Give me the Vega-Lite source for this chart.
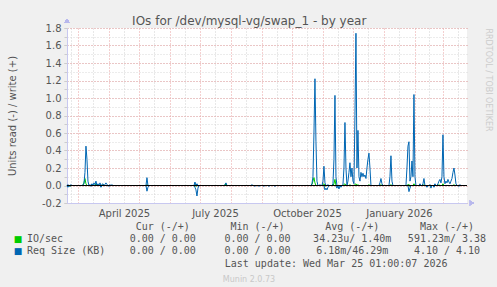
{
  "$schema": "https://vega.github.io/schema/vega-lite/v6.json",
  "background": "#f0f0f0",
  "padding": {"left": 7, "top": 14, "right": 8, "bottom": 5},
  "title": {"text": "IOs for /dev/mysql-vg/swap_1 - by year", "font": "DejaVu Sans", "fontSize": 12, "fontWeight": "normal", "color": "#555555", "anchor": "middle", "offset": -9},
  "config": {"view": {"stroke": null}, "font": "DejaVu Sans", "concat": {"spacing": 3}},
  "datasets": {
    "io": [
      {"d": "2025-02-18", "gw": 0, "gr": 0, "bw": 0, "br": 0},
      {"d": "2025-02-19", "gw": 0, "gr": 0, "bw": 0.01, "br": -0.02},
      {"d": "2025-02-20", "gw": 0, "gr": 0, "bw": 0, "br": 0},
      {"d": "2025-02-21", "gw": 0, "gr": -0.01, "bw": 0, "br": -0.01},
      {"d": "2025-02-22", "gw": 0, "gr": 0, "bw": 0.01, "br": 0},
      {"d": "2025-02-23", "gw": 0, "gr": 0, "bw": 0, "br": 0},
      {"d": "2025-02-24", "gw": 0, "gr": 0, "bw": 0, "br": 0},
      {"d": "2025-02-25", "gw": null, "gr": null, "bw": null, "br": null},
      {"d": "2025-03-04", "gw": 0, "gr": 0, "bw": 0, "br": 0},
      {"d": "2025-03-05", "gw": 0, "gr": 0, "bw": 0, "br": 0},
      {"d": "2025-03-06", "gw": 0, "gr": 0, "bw": 0.01, "br": 0},
      {"d": "2025-03-07", "gw": 0.03, "gr": 0, "bw": 0.02, "br": 0},
      {"d": "2025-03-08", "gw": 0.08, "gr": 0, "bw": 0.15, "br": 0},
      {"d": "2025-03-09", "gw": 0.02, "gr": 0, "bw": 0.45, "br": 0},
      {"d": "2025-03-10", "gw": 0, "gr": 0, "bw": 0.3, "br": 0},
      {"d": "2025-03-11", "gw": 0, "gr": 0, "bw": 0.05, "br": 0},
      {"d": "2025-03-12", "gw": 0, "gr": 0, "bw": 0, "br": 0},
      {"d": "2025-03-13", "gw": 0, "gr": 0, "bw": 0.01, "br": 0},
      {"d": "2025-03-14", "gw": 0, "gr": 0, "bw": 0, "br": -0.01},
      {"d": "2025-03-15", "gw": 0.01, "gr": 0, "bw": 0.02, "br": 0},
      {"d": "2025-03-16", "gw": 0, "gr": 0, "bw": 0, "br": 0},
      {"d": "2025-03-17", "gw": 0, "gr": 0, "bw": 0.03, "br": 0},
      {"d": "2025-03-18", "gw": 0, "gr": 0, "bw": 0.01, "br": 0},
      {"d": "2025-03-19", "gw": 0.02, "gr": 0, "bw": 0.05, "br": 0},
      {"d": "2025-03-20", "gw": 0, "gr": 0, "bw": 0, "br": 0},
      {"d": "2025-03-21", "gw": 0, "gr": 0, "bw": 0.02, "br": 0},
      {"d": "2025-03-22", "gw": 0, "gr": 0, "bw": 0, "br": 0},
      {"d": "2025-03-23", "gw": 0, "gr": 0, "bw": 0.03, "br": 0},
      {"d": "2025-03-24", "gw": 0, "gr": -0.01, "bw": 0, "br": -0.02},
      {"d": "2025-03-25", "gw": 0, "gr": 0, "bw": 0.01, "br": 0},
      {"d": "2025-03-26", "gw": 0.01, "gr": 0, "bw": 0.02, "br": 0},
      {"d": "2025-03-27", "gw": 0, "gr": 0, "bw": 0, "br": 0},
      {"d": "2025-03-28", "gw": 0, "gr": 0, "bw": 0.01, "br": 0},
      {"d": "2025-03-29", "gw": 0, "gr": 0, "bw": 0.03, "br": 0},
      {"d": "2025-03-30", "gw": 0, "gr": 0, "bw": 0.01, "br": 0},
      {"d": "2025-03-31", "gw": 0, "gr": 0, "bw": 0, "br": 0},
      {"d": "2025-04-01", "gw": 0, "gr": 0, "bw": 0, "br": -0.01},
      {"d": "2025-04-02", "gw": 0, "gr": 0, "bw": 0.01, "br": 0},
      {"d": "2025-04-03", "gw": 0, "gr": 0, "bw": 0, "br": 0},
      {"d": "2025-04-04", "gw": 0, "gr": 0, "bw": 0.01, "br": 0},
      {"d": "2025-04-05", "gw": 0, "gr": 0, "bw": 0, "br": 0},
      {"d": "2025-04-06", "gw": null, "gr": null, "bw": null, "br": null},
      {"d": "2025-05-08", "gw": 0, "gr": 0, "bw": 0, "br": 0},
      {"d": "2025-05-09", "gw": 0.01, "gr": 0, "bw": 0.09, "br": -0.065},
      {"d": "2025-05-10", "gw": 0, "gr": 0, "bw": 0, "br": -0.02},
      {"d": "2025-05-11", "gw": 0, "gr": 0, "bw": 0, "br": 0},
      {"d": "2025-05-12", "gw": null, "gr": null, "bw": null, "br": null},
      {"d": "2025-06-02", "gw": 0, "gr": 0, "bw": 0, "br": 0},
      {"d": "2025-06-03", "gw": 0, "gr": 0, "bw": 0, "br": 0},
      {"d": "2025-06-04", "gw": null, "gr": null, "bw": null, "br": null},
      {"d": "2025-06-25", "gw": 0, "gr": 0, "bw": 0, "br": 0},
      {"d": "2025-06-26", "gw": 0.01, "gr": 0, "bw": 0.04, "br": -0.02},
      {"d": "2025-06-27", "gw": 0, "gr": -0.01, "bw": 0, "br": -0.05},
      {"d": "2025-06-28", "gw": 0, "gr": 0, "bw": 0.02, "br": -0.12},
      {"d": "2025-06-29", "gw": 0, "gr": 0, "bw": 0, "br": -0.03},
      {"d": "2025-06-30", "gw": 0, "gr": 0, "bw": 0, "br": 0},
      {"d": "2025-07-01", "gw": null, "gr": null, "bw": null, "br": null},
      {"d": "2025-07-04", "gw": 0, "gr": 0, "bw": 0, "br": 0},
      {"d": "2025-07-05", "gw": 0, "gr": 0, "bw": 0, "br": 0},
      {"d": "2025-07-06", "gw": null, "gr": null, "bw": null, "br": null},
      {"d": "2025-07-25", "gw": 0, "gr": 0, "bw": 0, "br": 0},
      {"d": "2025-07-26", "gw": 0, "gr": 0, "bw": 0.01, "br": 0},
      {"d": "2025-07-27", "gw": 0.02, "gr": 0, "bw": 0.03, "br": 0},
      {"d": "2025-07-28", "gw": 0, "gr": 0, "bw": 0, "br": 0},
      {"d": "2025-07-29", "gw": 0, "gr": 0, "bw": 0, "br": 0},
      {"d": "2025-07-30", "gw": null, "gr": null, "bw": null, "br": null},
      {"d": "2025-08-18", "gw": 0, "gr": 0, "bw": 0, "br": 0},
      {"d": "2025-08-19", "gw": 0, "gr": 0, "bw": 0, "br": 0},
      {"d": "2025-08-20", "gw": 0, "gr": 0, "bw": 0, "br": 0},
      {"d": "2025-08-21", "gw": 0, "gr": 0, "bw": 0, "br": 0},
      {"d": "2025-08-22", "gw": 0, "gr": 0, "bw": 0.01, "br": 0},
      {"d": "2025-08-23", "gw": 0, "gr": 0, "bw": 0, "br": 0},
      {"d": "2025-08-24", "gw": 0, "gr": 0, "bw": 0, "br": 0},
      {"d": "2025-08-25", "gw": 0, "gr": 0, "bw": 0, "br": -0.01},
      {"d": "2025-08-26", "gw": 0, "gr": 0, "bw": 0, "br": 0},
      {"d": "2025-08-27", "gw": 0, "gr": 0, "bw": 0, "br": 0},
      {"d": "2025-08-28", "gw": 0, "gr": 0, "bw": 0, "br": 0},
      {"d": "2025-08-29", "gw": 0, "gr": 0, "bw": 0, "br": -0.01},
      {"d": "2025-08-30", "gw": 0, "gr": 0, "bw": 0, "br": 0},
      {"d": "2025-08-31", "gw": 0, "gr": 0, "bw": 0, "br": 0},
      {"d": "2025-09-01", "gw": null, "gr": null, "bw": null, "br": null},
      {"d": "2025-09-02", "gw": 0, "gr": 0, "bw": 0, "br": 0},
      {"d": "2025-09-03", "gw": 0, "gr": 0, "bw": 0, "br": -0.01},
      {"d": "2025-09-04", "gw": 0, "gr": 0, "bw": 0, "br": 0},
      {"d": "2025-09-05", "gw": 0, "gr": 0, "bw": 0, "br": 0},
      {"d": "2025-09-06", "gw": null, "gr": null, "bw": null, "br": null},
      {"d": "2025-09-07", "gw": 0, "gr": 0, "bw": 0, "br": 0},
      {"d": "2025-09-08", "gw": 0, "gr": 0, "bw": 0, "br": -0.01},
      {"d": "2025-09-09", "gw": 0, "gr": 0, "bw": 0, "br": 0},
      {"d": "2025-09-10", "gw": 0, "gr": 0, "bw": 0, "br": 0},
      {"d": "2025-09-11", "gw": null, "gr": null, "bw": null, "br": null},
      {"d": "2025-09-12", "gw": 0, "gr": 0, "bw": 0, "br": 0},
      {"d": "2025-09-13", "gw": 0, "gr": 0, "bw": 0, "br": 0},
      {"d": "2025-09-14", "gw": 0, "gr": 0, "bw": 0, "br": -0.01},
      {"d": "2025-09-15", "gw": 0, "gr": 0, "bw": 0, "br": 0},
      {"d": "2025-09-16", "gw": 0, "gr": 0, "bw": 0, "br": 0},
      {"d": "2025-09-17", "gw": 0, "gr": 0, "bw": 0, "br": 0},
      {"d": "2025-09-18", "gw": null, "gr": null, "bw": null, "br": null},
      {"d": "2025-09-22", "gw": 0, "gr": 0, "bw": 0, "br": 0},
      {"d": "2025-09-23", "gw": 0, "gr": 0, "bw": 0, "br": 0},
      {"d": "2025-09-24", "gw": 0, "gr": 0, "bw": 0, "br": 0},
      {"d": "2025-09-25", "gw": 0, "gr": 0, "bw": 0, "br": 0},
      {"d": "2025-09-26", "gw": null, "gr": null, "bw": null, "br": null},
      {"d": "2025-09-27", "gw": 0, "gr": 0, "bw": 0, "br": 0},
      {"d": "2025-09-28", "gw": 0, "gr": 0, "bw": 0, "br": 0},
      {"d": "2025-09-29", "gw": 0, "gr": 0, "bw": 0, "br": 0},
      {"d": "2025-09-30", "gw": 0, "gr": 0, "bw": 0, "br": 0},
      {"d": "2025-10-01", "gw": null, "gr": null, "bw": null, "br": null},
      {"d": "2025-10-02", "gw": 0, "gr": 0, "bw": 0, "br": 0},
      {"d": "2025-10-03", "gw": 0, "gr": 0, "bw": 0, "br": 0},
      {"d": "2025-10-04", "gw": 0, "gr": 0, "bw": 0, "br": 0},
      {"d": "2025-10-05", "gw": 0, "gr": 0, "bw": 0, "br": 0},
      {"d": "2025-10-06", "gw": 0, "gr": 0, "bw": 0, "br": 0},
      {"d": "2025-10-07", "gw": 0, "gr": 0, "bw": 0, "br": 0},
      {"d": "2025-10-08", "gw": null, "gr": null, "bw": null, "br": null},
      {"d": "2025-10-19", "gw": 0, "gr": 0, "bw": 0, "br": 0},
      {"d": "2025-10-20", "gw": 0, "gr": 0, "bw": 0, "br": 0},
      {"d": "2025-10-21", "gw": 0.01, "gr": 0, "bw": 0.02, "br": 0},
      {"d": "2025-10-22", "gw": 0.05, "gr": 0, "bw": 0.1, "br": 0},
      {"d": "2025-10-23", "gw": 0.09, "gr": 0, "bw": 0.6, "br": 0},
      {"d": "2025-10-24", "gw": 0.03, "gr": 0, "bw": 1.22, "br": 0},
      {"d": "2025-10-25", "gw": 0, "gr": 0, "bw": 0.5, "br": 0},
      {"d": "2025-10-26", "gw": 0, "gr": 0, "bw": 0.05, "br": 0},
      {"d": "2025-10-27", "gw": 0, "gr": 0, "bw": 0, "br": 0},
      {"d": "2025-10-28", "gw": 0, "gr": 0, "bw": 0, "br": 0},
      {"d": "2025-10-29", "gw": 0, "gr": 0, "bw": 0.01, "br": 0},
      {"d": "2025-10-30", "gw": 0, "gr": 0, "bw": 0, "br": 0},
      {"d": "2025-10-31", "gw": 0, "gr": 0, "bw": 0, "br": 0},
      {"d": "2025-11-01", "gw": 0.01, "gr": 0, "bw": 0.05, "br": 0},
      {"d": "2025-11-02", "gw": 0.02, "gr": 0, "bw": 0.22, "br": 0},
      {"d": "2025-11-03", "gw": 0, "gr": -0.01, "bw": 0.03, "br": -0.05},
      {"d": "2025-11-04", "gw": 0, "gr": 0, "bw": 0, "br": -0.03},
      {"d": "2025-11-05", "gw": 0, "gr": 0, "bw": 0, "br": -0.05},
      {"d": "2025-11-06", "gw": 0, "gr": 0, "bw": 0.01, "br": -0.02},
      {"d": "2025-11-07", "gw": 0, "gr": 0, "bw": 0, "br": 0},
      {"d": "2025-11-08", "gw": 0, "gr": 0, "bw": 0, "br": 0},
      {"d": "2025-11-09", "gw": 0, "gr": 0, "bw": 0, "br": 0},
      {"d": "2025-11-10", "gw": 0, "gr": 0, "bw": 0, "br": 0},
      {"d": "2025-11-11", "gw": 0, "gr": 0, "bw": 0.02, "br": 0},
      {"d": "2025-11-12", "gw": 0.02, "gr": 0, "bw": 0.3, "br": 0},
      {"d": "2025-11-13", "gw": 0.07, "gr": 0, "bw": 1.03, "br": 0},
      {"d": "2025-11-14", "gw": 0, "gr": 0, "bw": 0.1, "br": 0},
      {"d": "2025-11-15", "gw": 0, "gr": 0, "bw": 0, "br": -0.03},
      {"d": "2025-11-16", "gw": 0, "gr": 0, "bw": 0, "br": 0},
      {"d": "2025-11-17", "gw": 0, "gr": 0, "bw": 0, "br": -0.04},
      {"d": "2025-11-18", "gw": 0, "gr": 0, "bw": 0, "br": 0},
      {"d": "2025-11-19", "gw": 0, "gr": 0, "bw": 0, "br": -0.02},
      {"d": "2025-11-20", "gw": 0, "gr": 0, "bw": 0, "br": 0},
      {"d": "2025-11-21", "gw": 0, "gr": 0, "bw": 0.01, "br": 0},
      {"d": "2025-11-22", "gw": 0.01, "gr": 0, "bw": 0.2, "br": 0},
      {"d": "2025-11-23", "gw": 0.02, "gr": 0, "bw": 0.72, "br": 0},
      {"d": "2025-11-24", "gw": 0, "gr": 0, "bw": 0.2, "br": 0},
      {"d": "2025-11-25", "gw": 0, "gr": 0, "bw": 0, "br": 0},
      {"d": "2025-11-26", "gw": 0, "gr": 0, "bw": 0.05, "br": 0},
      {"d": "2025-11-27", "gw": 0, "gr": 0, "bw": 0.15, "br": 0},
      {"d": "2025-11-28", "gw": 0.01, "gr": 0, "bw": 0.26, "br": 0},
      {"d": "2025-11-29", "gw": 0, "gr": 0, "bw": 0.1, "br": 0},
      {"d": "2025-11-30", "gw": 0, "gr": 0, "bw": 0.2, "br": 0},
      {"d": "2025-12-01", "gw": 0, "gr": 0, "bw": 0.05, "br": 0},
      {"d": "2025-12-02", "gw": 0, "gr": 0, "bw": 0.02, "br": 0},
      {"d": "2025-12-03", "gw": 0.01, "gr": 0, "bw": 0.8, "br": 0},
      {"d": "2025-12-04", "gw": 0.02, "gr": 0, "bw": 1.74, "br": 0},
      {"d": "2025-12-05", "gw": 0, "gr": 0, "bw": 0.2, "br": 0},
      {"d": "2025-12-06", "gw": 0.01, "gr": 0, "bw": 0.63, "br": 0},
      {"d": "2025-12-07", "gw": 0, "gr": 0, "bw": 0.1, "br": 0},
      {"d": "2025-12-08", "gw": 0, "gr": 0, "bw": 0.05, "br": 0},
      {"d": "2025-12-09", "gw": 0, "gr": 0, "bw": 0.15, "br": 0},
      {"d": "2025-12-10", "gw": 0, "gr": 0, "bw": 0.1, "br": 0},
      {"d": "2025-12-11", "gw": 0, "gr": 0, "bw": 0.14, "br": 0},
      {"d": "2025-12-12", "gw": 0, "gr": 0, "bw": 0.1, "br": 0},
      {"d": "2025-12-13", "gw": 0, "gr": 0, "bw": 0.12, "br": 0},
      {"d": "2025-12-14", "gw": 0, "gr": 0, "bw": 0.08, "br": 0},
      {"d": "2025-12-15", "gw": 0, "gr": 0, "bw": 0.2, "br": 0},
      {"d": "2025-12-16", "gw": 0, "gr": 0, "bw": 0.3, "br": 0},
      {"d": "2025-12-17", "gw": 0.01, "gr": 0, "bw": 0.37, "br": 0},
      {"d": "2025-12-18", "gw": 0, "gr": 0, "bw": 0.2, "br": 0},
      {"d": "2025-12-19", "gw": 0, "gr": 0, "bw": 0, "br": 0},
      {"d": "2025-12-20", "gw": 0, "gr": 0, "bw": 0, "br": 0},
      {"d": "2025-12-21", "gw": 0, "gr": 0, "bw": 0, "br": 0},
      {"d": "2025-12-22", "gw": null, "gr": null, "bw": null, "br": null},
      {"d": "2025-12-27", "gw": 0, "gr": 0, "bw": 0, "br": 0},
      {"d": "2025-12-28", "gw": 0, "gr": 0, "bw": 0.03, "br": 0},
      {"d": "2025-12-29", "gw": 0.01, "gr": 0, "bw": 0.08, "br": 0},
      {"d": "2025-12-30", "gw": 0, "gr": 0, "bw": 0.02, "br": 0},
      {"d": "2025-12-31", "gw": 0, "gr": 0, "bw": 0, "br": 0},
      {"d": "2026-01-01", "gw": 0, "gr": 0, "bw": 0, "br": 0},
      {"d": "2026-01-02", "gw": 0, "gr": 0, "bw": 0, "br": 0},
      {"d": "2026-01-03", "gw": 0, "gr": 0, "bw": 0, "br": 0},
      {"d": "2026-01-04", "gw": null, "gr": null, "bw": null, "br": null},
      {"d": "2026-01-06", "gw": 0, "gr": 0, "bw": 0, "br": 0},
      {"d": "2026-01-07", "gw": 0, "gr": 0, "bw": 0.1, "br": 0},
      {"d": "2026-01-08", "gw": 0.01, "gr": 0, "bw": 0.34, "br": 0},
      {"d": "2026-01-09", "gw": 0, "gr": 0, "bw": 0.05, "br": 0},
      {"d": "2026-01-10", "gw": 0, "gr": 0, "bw": 0, "br": 0},
      {"d": "2026-01-11", "gw": null, "gr": null, "bw": null, "br": null},
      {"d": "2026-01-23", "gw": 0, "gr": 0, "bw": 0, "br": 0},
      {"d": "2026-01-24", "gw": 0, "gr": 0, "bw": 0.2, "br": 0},
      {"d": "2026-01-25", "gw": 0.01, "gr": 0, "bw": 0.45, "br": 0},
      {"d": "2026-01-26", "gw": 0.01, "gr": 0, "bw": 0.5, "br": -0.07},
      {"d": "2026-01-27", "gw": 0, "gr": -0.01, "bw": 0.05, "br": -0.03},
      {"d": "2026-01-28", "gw": 0, "gr": 0, "bw": 0.1, "br": 0},
      {"d": "2026-01-29", "gw": 0, "gr": 0, "bw": 0.28, "br": 0},
      {"d": "2026-01-30", "gw": 0, "gr": 0, "bw": 0.1, "br": 0},
      {"d": "2026-01-31", "gw": 0.02, "gr": 0, "bw": 1.04, "br": 0},
      {"d": "2026-02-01", "gw": 0, "gr": 0, "bw": 0.1, "br": 0},
      {"d": "2026-02-02", "gw": 0, "gr": 0, "bw": 0, "br": 0},
      {"d": "2026-02-03", "gw": 0, "gr": 0, "bw": 0, "br": 0},
      {"d": "2026-02-04", "gw": 0, "gr": 0, "bw": 0, "br": 0},
      {"d": "2026-02-05", "gw": 0, "gr": 0, "bw": 0, "br": 0},
      {"d": "2026-02-06", "gw": 0, "gr": 0, "bw": 0.02, "br": 0},
      {"d": "2026-02-07", "gw": 0, "gr": 0, "bw": 0, "br": 0},
      {"d": "2026-02-08", "gw": 0, "gr": 0, "bw": 0, "br": 0},
      {"d": "2026-02-09", "gw": 0, "gr": 0, "bw": 0.02, "br": 0},
      {"d": "2026-02-10", "gw": 0.01, "gr": 0, "bw": 0.08, "br": 0},
      {"d": "2026-02-11", "gw": 0, "gr": 0, "bw": 0, "br": 0},
      {"d": "2026-02-12", "gw": 0, "gr": 0, "bw": 0, "br": 0},
      {"d": "2026-02-13", "gw": 0, "gr": 0, "bw": 0, "br": -0.02},
      {"d": "2026-02-14", "gw": 0, "gr": 0, "bw": 0, "br": 0},
      {"d": "2026-02-15", "gw": 0, "gr": 0, "bw": 0, "br": 0},
      {"d": "2026-02-16", "gw": 0, "gr": 0, "bw": 0.01, "br": 0},
      {"d": "2026-02-17", "gw": 0, "gr": -0.01, "bw": 0, "br": -0.03},
      {"d": "2026-02-18", "gw": 0, "gr": 0, "bw": 0, "br": 0},
      {"d": "2026-02-19", "gw": 0, "gr": 0, "bw": 0, "br": 0},
      {"d": "2026-02-20", "gw": 0, "gr": 0, "bw": 0, "br": -0.02},
      {"d": "2026-02-21", "gw": 0, "gr": 0, "bw": 0.02, "br": 0},
      {"d": "2026-02-22", "gw": 0, "gr": 0, "bw": 0, "br": 0},
      {"d": "2026-02-23", "gw": 0, "gr": 0, "bw": 0, "br": 0},
      {"d": "2026-02-24", "gw": 0, "gr": 0, "bw": 0.02, "br": 0},
      {"d": "2026-02-25", "gw": 0.01, "gr": 0, "bw": 0.05, "br": 0},
      {"d": "2026-02-26", "gw": 0, "gr": 0, "bw": 0.07, "br": 0},
      {"d": "2026-02-27", "gw": 0, "gr": 0, "bw": 0.03, "br": 0},
      {"d": "2026-02-28", "gw": 0, "gr": 0, "bw": 0.1, "br": 0},
      {"d": "2026-03-01", "gw": 0.02, "gr": 0, "bw": 0.58, "br": 0},
      {"d": "2026-03-02", "gw": 0, "gr": 0, "bw": 0.1, "br": 0},
      {"d": "2026-03-03", "gw": 0, "gr": 0, "bw": 0.02, "br": 0},
      {"d": "2026-03-04", "gw": 0, "gr": 0, "bw": 0.05, "br": 0},
      {"d": "2026-03-05", "gw": 0, "gr": 0, "bw": 0.03, "br": 0},
      {"d": "2026-03-06", "gw": 0, "gr": 0, "bw": 0.07, "br": 0},
      {"d": "2026-03-07", "gw": 0, "gr": 0, "bw": 0.04, "br": 0},
      {"d": "2026-03-08", "gw": 0, "gr": 0, "bw": 0.02, "br": 0},
      {"d": "2026-03-09", "gw": 0, "gr": 0, "bw": 0.05, "br": 0},
      {"d": "2026-03-10", "gw": 0, "gr": 0, "bw": 0.08, "br": 0},
      {"d": "2026-03-11", "gw": 0, "gr": 0, "bw": 0.15, "br": 0},
      {"d": "2026-03-12", "gw": 0.01, "gr": 0, "bw": 0.2, "br": 0},
      {"d": "2026-03-13", "gw": 0, "gr": 0, "bw": 0.12, "br": 0},
      {"d": "2026-03-14", "gw": 0, "gr": 0, "bw": 0.02, "br": 0},
      {"d": "2026-03-15", "gw": 0, "gr": 0, "bw": 0, "br": 0},
      {"d": "2026-03-16", "gw": 0, "gr": 0, "bw": 0, "br": 0},
      {"d": "2026-03-17", "gw": 0, "gr": 0, "bw": 0, "br": -0.01},
      {"d": "2026-03-18", "gw": 0, "gr": 0, "bw": 0.01, "br": 0},
      {"d": "2026-03-19", "gw": 0, "gr": 0, "bw": 0, "br": 0},
      {"d": "2026-03-20", "gw": 0, "gr": 0, "bw": 0, "br": 0},
      {"d": "2026-03-21", "gw": 0, "gr": 0, "bw": 0, "br": 0},
      {"d": "2026-03-22", "gw": 0, "gr": 0, "bw": 0, "br": 0},
      {"d": "2026-03-23", "gw": 0, "gr": 0, "bw": 0, "br": 0},
      {"d": "2026-03-24", "gw": 0, "gr": 0, "bw": 0, "br": 0}
    ],
    "table": [
      {"row": "", "cur": "Cur (-/+)", "min": "Min (-/+)", "avg": "Avg (-/+)", "max": "Max (-/+)"},
      {"row": "IO/sec", "cur": "0.00 / 0.00", "min": "0.00 / 0.00", "avg": "34.23u/ 1.40m", "max": "591.23m/ 3.38"},
      {"row": "Req Size (KB)", "cur": "0.00 / 0.00", "min": "0.00 / 0.00", "avg": "6.18m/46.29m", "max": "4.10 / 4.10"}
    ]
  },
  "resolve": {"scale": {"color": "independent"}},
  "vconcat": [
    {
      "width": 400,
      "height": 175,
      "view": {"fill": "#ffffff", "stroke": null},
      "data": {"name": "io"},
      "resolve": {"axis": {"x": "independent", "y": "independent"}},
      "layer": [
        {
          "transform": [{"fold": ["gw", "gr"], "as": ["k", "v"]}],
          "mark": {"type": "line", "strokeWidth": 1, "color": "#00cc00", "invalid": "break-paths-show-domains"},
          "encoding": {
            "x": {"field": "d", "type": "temporal",
              "scale": {"domain": [{"year": 2025, "month": 2, "date": 18, "hours": 1}, {"year": 2026, "month": 3, "date": 25, "hours": 1}]},
              "axis": {"orient": "bottom", "values": [{"year": 2025, "month": 2, "date": 22}, {"year": 2025, "month": 3, "date": 16}, {"year": 2025, "month": 4, "date": 16}, {"year": 2025, "month": 5, "date": 16}, {"year": 2025, "month": 6, "date": 16}, {"year": 2025, "month": 7, "date": 16}, {"year": 2025, "month": 8, "date": 16}, {"year": 2025, "month": 9, "date": 16}, {"year": 2025, "month": 10, "date": 16}, {"year": 2025, "month": 11, "date": 16}, {"year": 2025, "month": 12, "date": 16}, {"year": 2026, "month": 1, "date": 16}, {"year": 2026, "month": 2, "date": 15}, {"year": 2026, "month": 3, "date": 16}],
                "grid": true, "gridColor": "#d0d0d0", "gridDash": [1, 2], "labels": false, "ticks": false, "domain": false, "title": null}},
            "y": {"field": "v", "type": "quantitative",
              "scale": {"domain": [-0.2, 1.8], "nice": false, "zero": false},
              "axis": {"orient": "left", "values": [-0.2, -0.1, 0, 0.1, 0.2, 0.3, 0.4, 0.5, 0.6, 0.7, 0.8, 0.9, 1, 1.1, 1.2, 1.3, 1.4, 1.5, 1.6, 1.7, 1.8],
                "grid": true, "gridColor": "#d8d8d8", "gridDash": [1, 2], "labels": false, "ticks": true, "tickSize": 3, "tickColor": "#cccccc", "domain": false, "title": null}},
            "detail": {"field": "k"}
          }
        },
        {
          "transform": [{"fold": ["bw", "br"], "as": ["k", "v"]}],
          "mark": {"type": "line", "strokeWidth": 1, "color": "#0066b3", "invalid": "break-paths-show-domains"},
          "encoding": {
            "x": {"field": "d", "type": "temporal",
              "axis": {"orient": "bottom", "values": [{"year": 2025, "month": 3, "date": 1}, {"year": 2025, "month": 4, "date": 1}, {"year": 2025, "month": 5, "date": 1}, {"year": 2025, "month": 6, "date": 1}, {"year": 2025, "month": 7, "date": 1}, {"year": 2025, "month": 8, "date": 1}, {"year": 2025, "month": 9, "date": 1}, {"year": 2025, "month": 10, "date": 1}, {"year": 2025, "month": 11, "date": 1}, {"year": 2025, "month": 12, "date": 1}, {"year": 2026, "month": 1, "date": 1}, {"year": 2026, "month": 2, "date": 1}, {"year": 2026, "month": 3, "date": 1}],
                "grid": true, "gridColor": "#e8a0a0", "gridDash": [1, 2], "labels": false, "ticks": false, "domain": true, "domainColor": "#c8c8f0", "title": null}},
            "y": {"field": "v", "type": "quantitative",
              "axis": {"orient": "left", "values": [-0.2, 0, 0.2, 0.4, 0.6, 0.8, 1, 1.2, 1.4, 1.6, 1.8], "format": ".1f", "labelExpr": "replace(datum.label, '\u2212', '-')",
                "grid": true, "gridColor": "#e8a0a0", "gridDash": [1, 2], "labelFontSize": 10, "labelColor": "#555555", "labelPadding": 3,
                "ticks": true, "tickSize": 3, "tickColor": "#cccccc", "domain": true, "domainColor": "#c8c8f0",
                "title": "Units read (-) / write (+)", "titleFontSize": 10, "titleFontWeight": "normal", "titleColor": "#555555", "titlePadding": 24}},
            "detail": {"field": "k"}
          }
        },
        {
          "mark": {"type": "rule", "color": "#000000", "strokeWidth": 1},
          "encoding": {
            "x": {"datum": {"year": 2025, "month": 2, "date": 18, "hours": 1}, "type": "temporal",
              "axis": {"orient": "bottom", "values": [{"year": 2025, "month": 4, "date": 16}, {"year": 2025, "month": 7, "date": 16}, {"year": 2025, "month": 10, "date": 16}, {"year": 2026, "month": 1, "date": 16}], "format": "%B %Y",
                "grid": false, "ticks": false, "domain": false, "labelFontSize": 10, "labelColor": "#555555", "labelPadding": 5, "title": null}},
            "x2": {"datum": {"year": 2026, "month": 3, "date": 25, "hours": 1}},
            "y": {"datum": 0, "type": "quantitative",
              "axis": {"orient": "right", "title": "RRDTOOL / TOBI OETIKER", "labels": false, "ticks": false, "domain": false, "grid": false,
                "titleFontSize": 8, "titleFontWeight": "normal", "titleColor": "#cccccc", "titleAnchor": "end", "titleAlign": "left", "titlePadding": 16}}
          }
        },
        {
          "mark": {"type": "point", "shape": "triangle-right", "size": 22, "filled": true, "color": "#b8b8ec", "opacity": 1},
          "encoding": {
            "x": {"datum": {"year": 2026, "month": 3, "date": 30}, "type": "temporal", "axis": null},
            "y": {"datum": -0.2, "type": "quantitative", "axis": null}
          }
        },
        {
          "mark": {"type": "point", "shape": "triangle-up", "size": 22, "filled": true, "color": "#b8b8ec", "opacity": 1},
          "encoding": {
            "x": {"datum": {"year": 2025, "month": 2, "date": 18, "hours": 1}, "type": "temporal", "axis": null},
            "y": {"datum": 1.88, "type": "quantitative", "axis": null}
          }
        }
      ]
    },
    {
      "width": 412,
      "height": 36,
      "data": {"name": "table"},
      "title": {"text": "Munin 2.0.73", "orient": "bottom", "anchor": "middle", "fontSize": 8, "fontWeight": "normal", "color": "#c8c8c8", "offset": 8, "dx": -24},
      "encoding": {
        "y": {"field": "row", "type": "nominal", "scale": {"domain": ["", "IO/sec", "Req Size (KB)"]}, "axis": null}
      },
      "layer": [
        {
          "transform": [{"filter": "datum.row != ''"}],
          "mark": {"type": "text", "text": "\u25a0", "dx": -50, "fontSize": 9, "font": "DejaVu Sans", "baseline": "middle"},
          "encoding": {
            "x": {"datum": "name", "type": "nominal",
              "axis": {"labels": false, "ticks": false, "domain": false, "grid": false, "title": "Last update: Wed Mar 25 01:00:07 2026", "titleAnchor": "end", "titleFont": "DejaVu Sans Mono", "titleFontSize": 10, "titleFontWeight": "normal", "titleColor": "#555555", "titlePadding": 1}},
            "color": {"field": "row", "type": "nominal", "scale": {"domain": ["IO/sec", "Req Size (KB)"], "range": ["#00cc00", "#0066b3"]}, "legend": null}
          }
        },
        {
          "mark": {"type": "text", "align": "left", "dx": -41, "font": "DejaVu Sans Mono", "fontSize": 10, "color": "#555555", "baseline": "middle"},
          "encoding": {
            "x": {"datum": "name", "type": "nominal",
              "axis": {"labels": false, "ticks": false, "domain": false, "grid": false, "title": "Last update: Wed Mar 25 01:00:07 2026", "titleAnchor": "end", "titleFont": "DejaVu Sans Mono", "titleFontSize": 10, "titleFontWeight": "normal", "titleColor": "#555555", "titlePadding": 1}},
            "text": {"field": "row"}
          }
        },
        {
          "transform": [{"fold": ["cur", "min", "avg", "max"], "as": ["col", "val"]}],
          "mark": {"type": "text", "align": "center", "font": "DejaVu Sans Mono", "fontSize": 10, "color": "#555555", "baseline": "middle"},
          "encoding": {
            "x": {"field": "col", "type": "nominal", "scale": {"domain": ["name", "cur", "min", "avg", "max"], "range": [1, 380], "padding": 0},
              "axis": {"labels": false, "ticks": false, "domain": false, "grid": false, "title": "Last update: Wed Mar 25 01:00:07 2026", "titleAnchor": "end", "titleFont": "DejaVu Sans Mono", "titleFontSize": 10, "titleFontWeight": "normal", "titleColor": "#555555", "titlePadding": 1}},
            "text": {"field": "val"}
          }
        }
      ]
    }
  ]
}
